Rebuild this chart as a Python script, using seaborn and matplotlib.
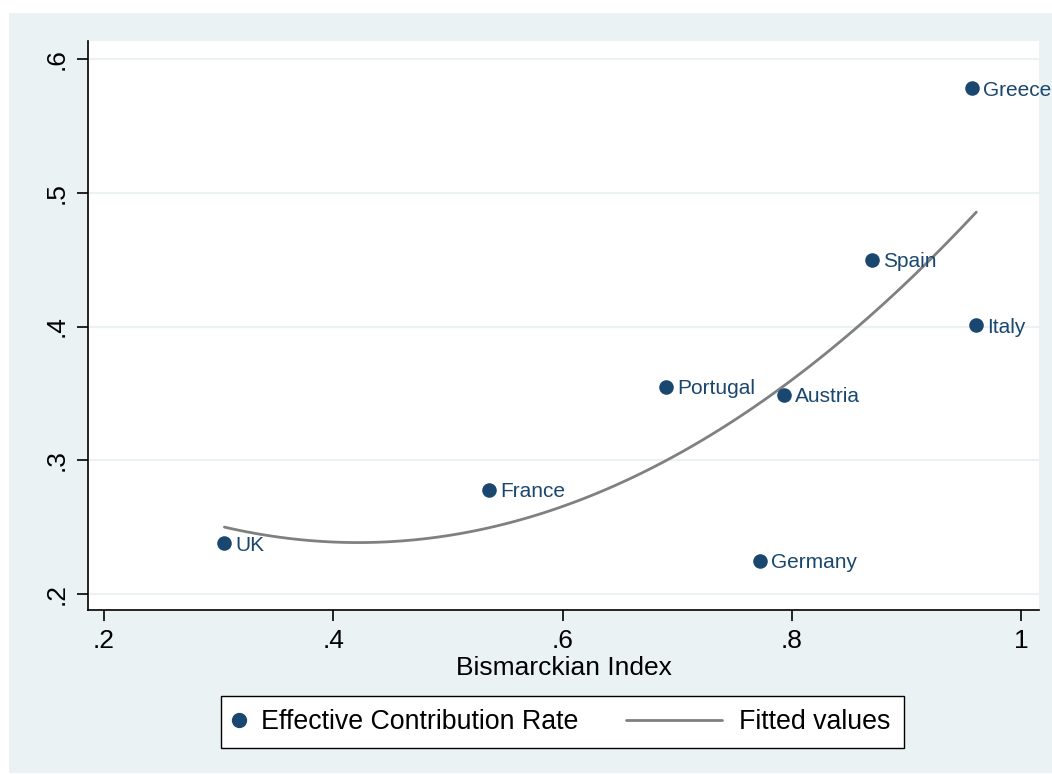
import matplotlib
matplotlib.use("Agg")
import matplotlib.pyplot as plt
import seaborn as sns
import pandas as pd
from matplotlib.patches import Rectangle
from matplotlib.lines import Line2D
from matplotlib.legend_handler import HandlerLine2D

countries = ["UK", "France", "Portugal", "Austria", "Germany", "Spain", "Italy", "Greece"]
bismarckian = [0.305, 0.536, 0.690, 0.793, 0.772, 0.870, 0.961, 0.957]
contribution = [0.238, 0.278, 0.355, 0.349, 0.225, 0.450, 0.401, 0.578]
xticks = [0.2, 0.4, 0.6, 0.8, 1.0]
xticklabels = [".2", ".4", ".6", ".8", "1"]
yticks = [0.2, 0.3, 0.4, 0.5, 0.6]
yticklabels = [".2", ".3", ".4", ".5", ".6"]

df = pd.DataFrame({"country": countries, "x": bismarckian, "y": contribution})

sns.set_style("white")
plt.rcParams["font.family"] = ["Liberation Sans", "DejaVu Sans"]

NAVY = "#1A476F"
GRAY = "#808080"
BG = "#EAF2F3"

fig = plt.figure(figsize=(10.52, 7.74), dpi=100, facecolor="white")
fig.patches.append(Rectangle((9 / 1052, 1 / 774), 1 - 9 / 1052, 1 - 14 / 774,
                             transform=fig.transFigure, facecolor=BG, edgecolor="none", zorder=-10))
ax = fig.add_axes([88 / 1052, 1 - 610 / 774, (1039 - 88) / 1052, (610 - 41) / 774])
ax.set_facecolor("white")

for yv in yticks:
    ax.axhline(yv, color=BG, lw=1.5, zorder=0)

sns.scatterplot(data=df, x="x", y="y", ax=ax, color=NAVY, s=110, edgecolor=NAVY,
                linewidth=0, zorder=3, legend=False)
sns.regplot(data=df, x="x", y="y", order=2, ci=None, scatter=False, ax=ax,
            line_kws={"color": GRAY, "lw": 2, "zorder": 2}, truncate=True)

for c, xv, yv in zip(countries, bismarckian, contribution):
    ax.annotate(c, (xv, yv), xytext=(8, 0), textcoords="offset points",
                color=NAVY, fontsize=15, va="center_baseline", ha="left", zorder=4,
                annotation_clip=False)

ax.set_xlim(0.186, 1.0157)
ax.set_ylim(0.188, 0.6135)
ax.set_xticks(xticks)
ax.set_xticklabels(xticklabels)
ax.set_yticks(yticks)
ax.set_yticklabels(yticklabels, rotation=90, va="center")
ax.tick_params(axis="both", direction="out", length=8, width=1.2, color="black",
               labelsize=19, pad=6, left=True, bottom=True, labelcolor="black")
ax.set_xlabel("Bismarckian Index", fontsize=19, labelpad=2, color="black")
ax.set_ylabel("")

for side in ["top", "right"]:
    ax.spines[side].set_visible(False)
for side in ["left", "bottom"]:
    ax.spines[side].set_color("black")
    ax.spines[side].set_linewidth(1.2)


class LongLine(HandlerLine2D):
    def get_xdata(self, legend, xdescent, ydescent, width, height, fontsize):
        return [-xdescent - 62, -xdescent + width], []


handles = [
    Line2D([0], [0], marker="o", color="none", markerfacecolor=NAVY, markeredgecolor=NAVY,
           markersize=10, label="Effective Contribution Rate"),
    Line2D([0], [0], color=GRAY, lw=2, label="Fitted values"),
]
leg = fig.legend(handles=handles, loc="center", bbox_to_anchor=(562.5 / 1052, 1 - 722 / 774),
                 ncol=2, fontsize=19.3, frameon=True, fancybox=False, edgecolor="black",
                 handlelength=0.364, columnspacing=5.0, handletextpad=0.64, borderpad=0.5,
                 framealpha=1, handler_map={handles[1]: LongLine()})
leg.get_frame().set_linewidth(1.0)
leg.get_frame().set_facecolor("white")
for t in leg.get_texts():
    t.set_color("black")

fig.savefig("out.png", dpi=100, facecolor="white")
